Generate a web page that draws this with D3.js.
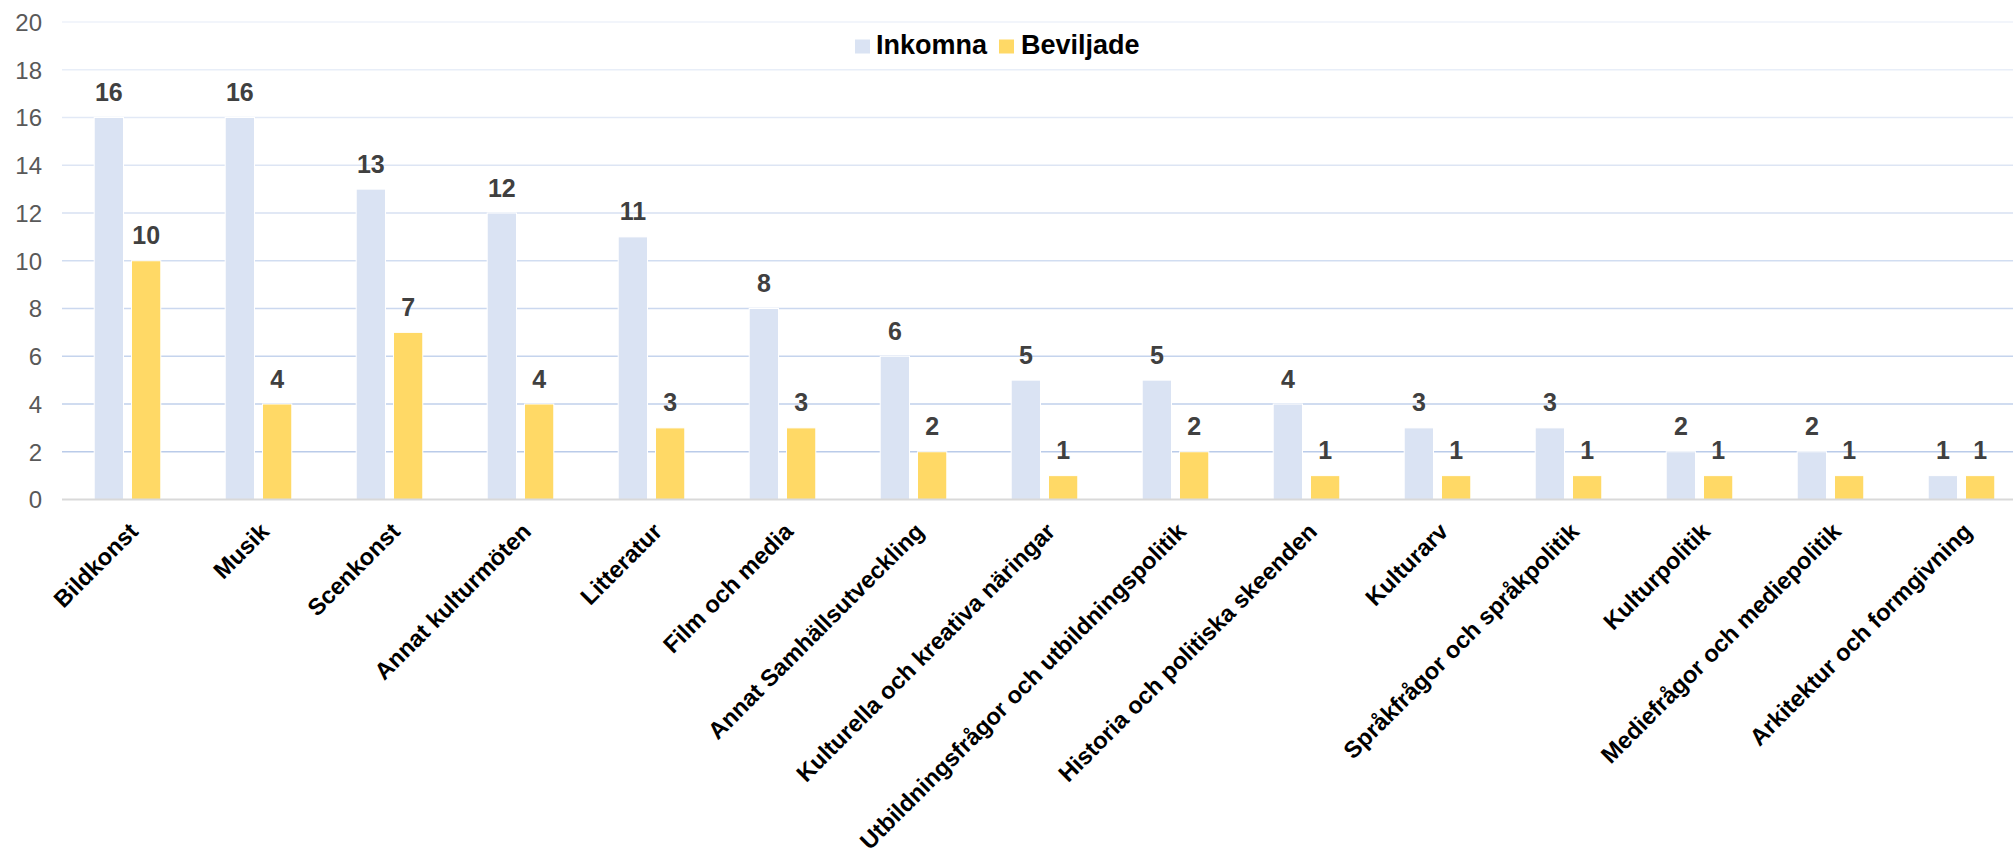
<!DOCTYPE html>
<html>
<head>
<meta charset="utf-8">
<script src="https://cdn.jsdelivr.net/npm/d3@7"></script>
<style>
  html, body { margin: 0; padding: 0; background: #ffffff; }
  svg { display: block; font-family: "Liberation Sans", Arial, sans-serif; }
</style>
</head>
<body>
<svg id="chart" width="2013" height="851"></svg>
<script>
const categories = [
  "Bildkonst", "Musik", "Scenkonst", "Annat kulturmöten", "Litteratur",
  "Film och media", "Annat Samhällsutveckling", "Kulturella och kreativa näringar",
  "Utbildningsfrågor och utbildningspolitik", "Historia och politiska skeenden",
  "Kulturarv", "Språkfrågor och språkpolitik", "Kulturpolitik",
  "Mediefrågor och mediepolitik", "Arkitektur och formgivning"
];
const seriesNames = ["Inkomna", "Beviljade"];
const inkomna   = [16, 16, 13, 12, 11, 8, 6, 5, 5, 4, 3, 3, 2, 2, 1];
const beviljade = [10, 4, 7, 4, 3, 3, 2, 1, 2, 1, 1, 1, 1, 1, 1];
const yTicks = [0, 2, 4, 6, 8, 10, 12, 14, 16, 18, 20];
const seriesColors = ["#dae3f3", "#ffd966"];

(function () {
const svg = d3.select("#chart");
const plotLeft = 62, plotTop = 22, plotBottom = 499.5, step = 131;
const plotRight = plotLeft + step * categories.length;

const x0 = d3.scaleBand().domain(categories).range([plotLeft, plotRight]).padding(0);
const x1 = d3.scaleBand().domain(seriesNames).range([32.2, 98.8]).paddingInner(0.2145).paddingOuter(0);
const y = d3.scaleLinear().domain([0, 20]).range([plotBottom, plotTop]);
const gridColor = d3.interpolateRgb("#b4c7e7", "#eef2fa");

// gridlines
svg.append("g").selectAll("line")
  .data(yTicks.filter(d => d > 0))
  .join("line")
  .attr("x1", plotLeft).attr("x2", 2013)
  .attr("y1", d => y(d)).attr("y2", d => y(d))
  .attr("stroke", d => gridColor(d / 20))
  .attr("stroke-width", 1.6);

// y axis labels
svg.append("g").selectAll("text")
  .data(yTicks)
  .join("text")
  .attr("x", 42)
  .attr("y", d => y(d))
  .attr("dy", "0.37em")
  .attr("text-anchor", "end")
  .attr("font-size", 24)
  .attr("fill", "#595959")
  .text(d => d);

const data = categories.map((c, i) => ({ cat: c, vals: [
  { s: seriesNames[0], v: inkomna[i], c: seriesColors[0] },
  { s: seriesNames[1], v: beviljade[i], c: seriesColors[1] }
]}));

const groups = svg.append("g").selectAll("g")
  .data(data)
  .join("g")
  .attr("transform", d => `translate(${x0(d.cat)},0)`);

groups.selectAll("rect")
  .data(d => d.vals)
  .join("rect")
  .attr("x", d => x1(d.s))
  .attr("width", x1.bandwidth())
  .attr("y", d => y(d.v))
  .attr("height", d => plotBottom - y(d.v))
  .attr("fill", d => d.c)
  .attr("stroke", "#ffffff")
  .attr("stroke-width", 1);

groups.selectAll("text.val")
  .data(d => d.vals)
  .join("text")
  .attr("class", "val")
  .attr("x", d => x1(d.s) + x1.bandwidth() / 2)
  .attr("y", d => y(d.v) - 16.5)
  .attr("text-anchor", "middle")
  .attr("font-size", 25)
  .attr("font-weight", "bold")
  .attr("fill", "#404040")
  .text(d => d.v);

// zero axis line
svg.append("line")
  .attr("x1", plotLeft).attr("x2", 2013)
  .attr("y1", y(0)).attr("y2", y(0))
  .attr("stroke", "#d9d9d9")
  .attr("stroke-width", 2);

// x labels
svg.append("g").selectAll("text")
  .data(categories)
  .join("text")
  .attr("transform", d => `translate(${x0(d) + step / 2},521) rotate(-45)`)
  .attr("dy", "0.72em")
  .attr("text-anchor", "end")
  .attr("font-size", 23.6)
  .attr("font-weight", "bold")
  .attr("fill", "#000000")
  .text(d => d);

// legend
const legend = svg.append("g");
const legendItems = [
  { name: seriesNames[0], color: seriesColors[0], sx: 855, tx: 876 },
  { name: seriesNames[1], color: seriesColors[1], sx: 999, tx: 1021 }
];
legend.selectAll("rect")
  .data(legendItems)
  .join("rect")
  .attr("x", d => d.sx).attr("y", 39.5)
  .attr("width", 15).attr("height", 14)
  .attr("fill", d => d.color);
legend.selectAll("text")
  .data(legendItems)
  .join("text")
  .attr("x", d => d.tx).attr("y", 54.3)
  .attr("font-size", 27)
  .attr("font-weight", "bold")
  .attr("fill", "#000000")
  .text(d => d.name);
})();
</script>
</body>
</html>
